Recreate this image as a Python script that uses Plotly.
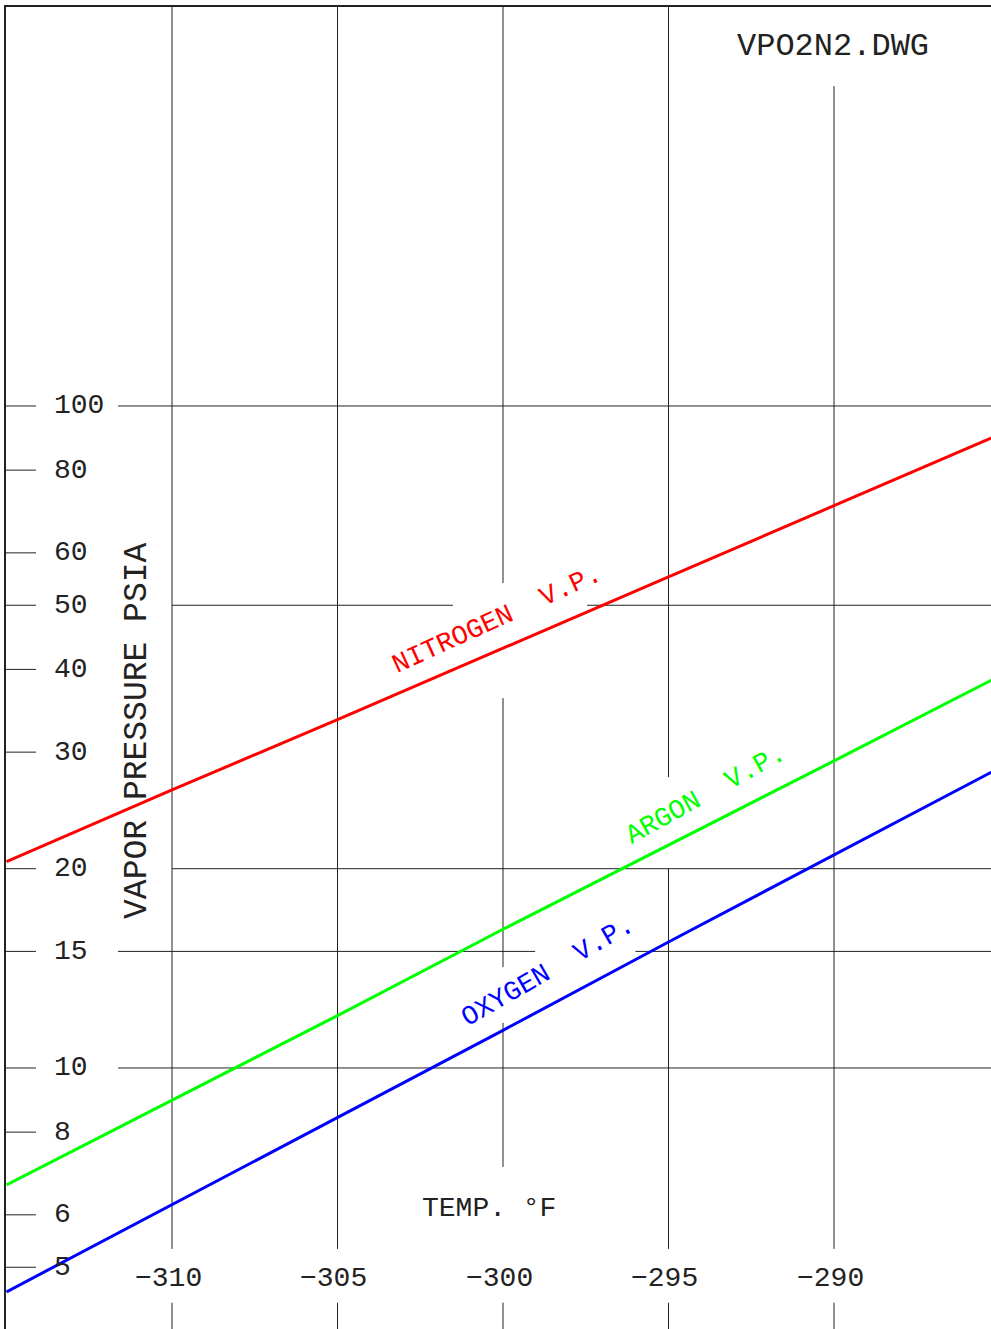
import numpy as np
import plotly.graph_objects as go

# ---- data ----
temps = [-315, -310, -305, -300, -295, -290, -285]
nitrogen = [20.5, 26.3, 33.6, 43.1, 55.2, 70.7, 90.6]
argon = [6.66, 8.95, 12.0, 16.2, 21.7, 29.1, 39.1]
oxygen = [4.59, 6.22, 8.42, 11.4, 15.5, 21.0, 28.4]

x_ticks = [-310, -305, -300, -295, -290]
x_tick_text = ["−310", "−305", "−300", "−295", "−290"]
y_ticks = [100, 80, 60, 50, 40, 30, 20, 15, 10, 8, 6, 5]
y_tick_text = ["100", "80", "60", "50", "40", "30", "20", "15", "10", "8", "6", "5"]

X_RANGE = [-315.015, -285.257]
Y_RANGE = [0.6057, 2.6027]  # log10
Y_TOP = 10 ** Y_RANGE[1]
Y_BOT = 10 ** Y_RANGE[0]

FONT = "Liberation Mono"
INK = "#222222"

fig = go.Figure()

# ---- grid segments (with the gaps of the drawing) ----
gx, gy = [], []


def seg(x0, y0, x1, y1):
    gx.extend([x0, x1, None])
    gy.extend([y0, y1, None])


# horizontal grid lines
for yv, parts in [
    (100, [(-311.63, X_RANGE[1])]),
    (50, [(-310, -301.51), (-297.46, X_RANGE[1])]),
    (20, [(-310, X_RANGE[1])]),
    (15, [(-311.63, -299.03), (-296.0, X_RANGE[1])]),
    (10, [(-311.63, X_RANGE[1])]),
]:
    for a, b in parts:
        seg(a, yv, b, yv)

# vertical grid lines
for xv, parts in [
    (-310, [(Y_TOP, 5.33), (4.42, Y_BOT)]),
    (-305, [(Y_TOP, 5.33), (4.42, Y_BOT)]),
    (-300, [(Y_TOP, 54.0), (36.2, 14.2), (11.7, 7.09), (4.42, Y_BOT)]),
    (-295, [(Y_TOP, 27.5), (20, 5.33), (4.42, Y_BOT)]),
    (-290, [(304.3, 5.33), (4.42, Y_BOT)]),
]:
    for a, b in parts:
        seg(xv, a, xv, b)

# short tick marks on the left edge
for yv in y_ticks:
    seg(X_RANGE[0], yv, X_RANGE[0] + 0.906, yv)

fig.add_trace(go.Scatter(x=gx, y=gy, mode="lines",
                         line=dict(color=INK, width=1),
                         hoverinfo="skip", showlegend=False))

# ---- vapor pressure curves ----
for name, vals, col in [("NITROGEN", nitrogen, "#ff0000"),
                        ("ARGON", argon, "#00ff00"),
                        ("OXYGEN", oxygen, "#0000ff")]:
    fig.add_trace(go.Scatter(x=temps, y=vals, mode="lines", name=name,
                             line=dict(color=col, width=3),
                             showlegend=False))

ann = []
# y tick labels
for v, t in zip(y_ticks, y_tick_text):
    ann.append(dict(x=-313.625, y=np.log10(v), text=t, xanchor="left",
                    yanchor="middle", showarrow=False,
                    font=dict(family=FONT, size=28, color=INK)))
# x tick labels
for v, t in zip(x_ticks, x_tick_text):
    ann.append(dict(x=v, y=np.log10(4.81), text=t, xanchor="center",
                    yanchor="middle", xshift=-4, showarrow=False,
                    font=dict(family=FONT, size=28, color=INK)))

# titles / labels
ann.append(dict(x=-311.06, y=1.509, text="VAPOR PRESSURE PSIA", textangle=-90,
                showarrow=False, font=dict(family=FONT, size=33, color=INK)))
ann.append(dict(x=-300.42, y=0.787, text="TEMP. °F", showarrow=False,
                font=dict(family=FONT, size=28, color=INK)))
ann.append(dict(x=-290.03, y=2.5423, text="VPO2N2.DWG", showarrow=False,
                font=dict(family=FONT, size=32, color=INK)))

# curve labels
ann.append(dict(x=-300.18, y=1.6767, text="NITROGEN  V.P.", textangle=-24.5,
                showarrow=False, font=dict(family=FONT, size=27, color="#ff0000")))
ann.append(dict(x=-293.87, y=1.4124, text="ARGON  V.P.", textangle=-29,
                showarrow=False, font=dict(family=FONT, size=27, color="#00ff00")))
ann.append(dict(x=-298.64, y=1.145, text="OXYGEN  V.P.", textangle=-30,
                showarrow=False, font=dict(family=FONT, size=27, color="#0000ff")))

fig.update_layout(
    width=991, height=1329, autosize=False,
    margin=dict(l=6, r=0, t=7, b=0, pad=0),
    paper_bgcolor="white", plot_bgcolor="white",
    annotations=ann,
    xaxis=dict(range=X_RANGE, showgrid=False, zeroline=False,
               showticklabels=False, ticks="", showline=True, side="top",
               linecolor=INK, linewidth=2, fixedrange=True),
    yaxis=dict(type="log", range=Y_RANGE, showgrid=False, zeroline=False,
               showticklabels=False, ticks="", showline=True,
               linecolor=INK, linewidth=2, fixedrange=True),
)

fig.write_html("out.html", config={"displayModeBar": False},
               post_script="document.body.style.margin='0px';"
                           "document.body.style.overflow='hidden';")
